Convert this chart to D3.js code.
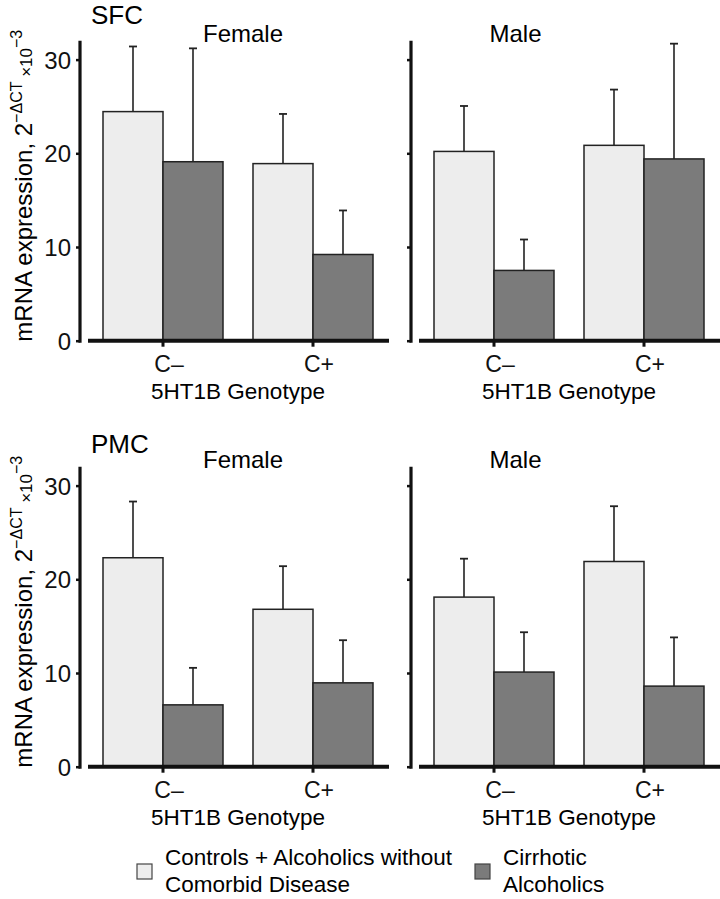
<!DOCTYPE html>
<html>
<head>
<meta charset="utf-8">
<script src="https://cdn.jsdelivr.net/npm/d3@7"></script>
<style>
  body { margin: 0; background: #fff; }
  svg { display: block; font-family: "Liberation Sans", Arial, Helvetica, sans-serif; }
</style>
</head>
<body>
<div id="chart"></div>
<script>
// Embedded data
const regions = ["SFC", "PMC"];
const sexes = ["Female", "Male"];
const genotypes = ["C–", "C+"];
const groups = ["Controls + Alcoholics without Comorbid Disease", "Cirrhotic Alcoholics"];
const yTicks = [0, 10, 20, 30];

// means, order: C– controls, C– cirrhotic, C+ controls, C+ cirrhotic
const sfcFemale = [24.45, 19.1, 18.9, 9.2];
const sfcMale = [20.2, 7.5, 20.85, 19.4];
const pmcFemale = [22.3, 6.6, 16.8, 8.95];
const pmcMale = [18.1, 10.1, 21.9, 8.6];

// upper error (SE) on the same order
const sfcFemaleErr = [6.95, 12.1, 5.3, 4.7];
const sfcMaleErr = [4.85, 3.3, 5.95, 12.3];
const pmcFemaleErr = [6.0, 3.95, 4.6, 4.55];
const pmcMaleErr = [4.1, 4.25, 5.9, 5.2];

const means = { SFC: { Female: sfcFemale, Male: sfcMale }, PMC: { Female: pmcFemale, Male: pmcMale } };
const errs = { SFC: { Female: sfcFemaleErr, Male: sfcMaleErr }, PMC: { Female: pmcFemaleErr, Male: pmcMaleErr } };

const W = 720, H = 899;
const colors = ["#ededed", "#7b7b7b"];
const rowBase = [340.7, 766.7];     // pixel y of value 0 for each row
const panelShift = [0, 331];        // x offset of each column
const titleX = [243, 515.5];        // centre of the Female / Male titles
const pxPerUnit = 9.37;

const svg = d3.select('#chart').append('svg')
    .attr('width', W)
    .attr('height', H);

const x = d3.scaleBand().domain(genotypes).range([88, 388]).paddingInner(0.2).paddingOuter(0.1);
const xg = d3.scaleBand().domain(groups).range([0, x.bandwidth()]);

regions.forEach((reg, ri) => {
    const y0 = rowBase[ri];
    const y = d3.scaleLinear().domain([0, 32]).range([y0, y0 - 32 * pxPerUnit]);

    // region label
    svg.append('text')
        .attr('x', 91)
        .attr('y', ri === 0 ? 24 : 453)
        .attr('font-size', 26)
        .text(reg);

    // y axis title
    const yl = svg.append('text')
        .attr('transform', `translate(32,${y0 - 155}) rotate(-90)`)
        .attr('text-anchor', 'middle')
        .attr('font-size', 24);
    yl.append('tspan').text('mRNA expression, 2');
    yl.append('tspan').attr('font-size', 16).attr('dy', -10).text('−ΔCT');
    yl.append('tspan').attr('font-size', 17).attr('dy', 10).text(' ×10');
    yl.append('tspan').attr('font-size', 16).attr('dy', -10).text('−3');

    sexes.forEach((sex, si) => {
        const g = svg.append('g').attr('transform', `translate(${panelShift[si]},0)`);
        const vals = means[reg][sex];
        const se = errs[reg][sex];

        // panel title
        svg.append('text')
            .attr('x', titleX[si])
            .attr('y', y0 - 299)
            .attr('text-anchor', 'middle')
            .attr('font-size', 24)
            .text(sex);

        // y axis
        const ya = g.append('g')
            .attr('transform', 'translate(80,0)')
            .call(d3.axisLeft(y).tickValues(yTicks).tickSize(4).tickPadding(5)
                .tickFormat(si === 0 ? d3.format('d') : () => ''));
        ya.select('.domain').remove();
        ya.selectAll('.tick line').attr('stroke', '#111').attr('stroke-width', 2.5);
        ya.selectAll('.tick text').attr('font-size', 24).attr('fill', '#111').attr('dy', '0.36em')
            .style('font-family', '"Liberation Sans", Arial, sans-serif');
        g.append('line')
            .attr('x1', 80).attr('x2', 80)
            .attr('y1', y(32)).attr('y2', y0 + 2)
            .attr('stroke', '#111').attr('stroke-width', 3.2);

        // bars
        const rows = [];
        genotypes.forEach((gt, gi) => {
            groups.forEach((grp, k) => {
                rows.push({ gt, grp, k, v: vals[gi * 2 + k], e: se[gi * 2 + k] });
            });
        });

        // error bars (drawn first so bars cover the lower part)
        rows.forEach(d => {
            const cx = x(d.gt) + xg(d.grp) + xg.bandwidth() / 2;
            g.append('line')
                .attr('x1', cx).attr('x2', cx)
                .attr('y1', y(d.v)).attr('y2', y(d.v + d.e))
                .attr('stroke', '#222').attr('stroke-width', 1.6);
            g.append('line')
                .attr('x1', cx - 4).attr('x2', cx + 4)
                .attr('y1', y(d.v + d.e)).attr('y2', y(d.v + d.e))
                .attr('stroke', '#222').attr('stroke-width', 1.8);
        });

        g.selectAll('rect.bar')
            .data(rows)
            .join('rect')
            .attr('class', 'bar')
            .attr('x', d => x(d.gt) + xg(d.grp))
            .attr('y', d => y(d.v))
            .attr('width', xg.bandwidth())
            .attr('height', d => y0 - y(d.v))
            .attr('fill', d => colors[d.k])
            .attr('stroke', '#222')
            .attr('stroke-width', 1.5);

        // x axis
        const xa = g.append('g')
            .attr('transform', `translate(0,${y0})`)
            .call(d3.axisBottom(x).tickSize(6).tickPadding(9));
        xa.select('.domain').remove();
        xa.selectAll('.tick line').attr('stroke', '#111').attr('stroke-width', 3);
        xa.selectAll('.tick text').attr('font-size', 23).attr('fill', '#111').attr('dx', 6)
            .style('font-family', '"Liberation Sans", Arial, sans-serif');
        g.append('line')
            .attr('x1', 88).attr('x2', 389)
            .attr('y1', y0).attr('y2', y0)
            .attr('stroke', '#111').attr('stroke-width', 4);

        g.append('text')
            .attr('x', (x.range()[0] + x.range()[1]) / 2)
            .attr('y', y0 + 58)
            .attr('text-anchor', 'middle')
            .attr('font-size', 22.5)
            .text('5HT1B Genotype');
    });
});

// legend
const legendItems = [
    { lines: ['Controls + Alcoholics without', 'Comorbid Disease'], sx: 137, tx: 165 },
    { lines: ['Cirrhotic', 'Alcoholics'], sx: 475, tx: 503 }
];
legendItems.forEach((d, i) => {
    svg.append('rect')
        .attr('x', d.sx).attr('y', 864)
        .attr('width', 15).attr('height', 15)
        .attr('fill', colors[i])
        .attr('stroke', '#444')
        .attr('stroke-width', 1.2);
    d.lines.forEach((t, j) => {
        svg.append('text')
            .attr('x', d.tx)
            .attr('y', 865 + j * 27)
            .attr('font-size', 22.5)
            .text(t);
    });
});
</script>
</body>
</html>
